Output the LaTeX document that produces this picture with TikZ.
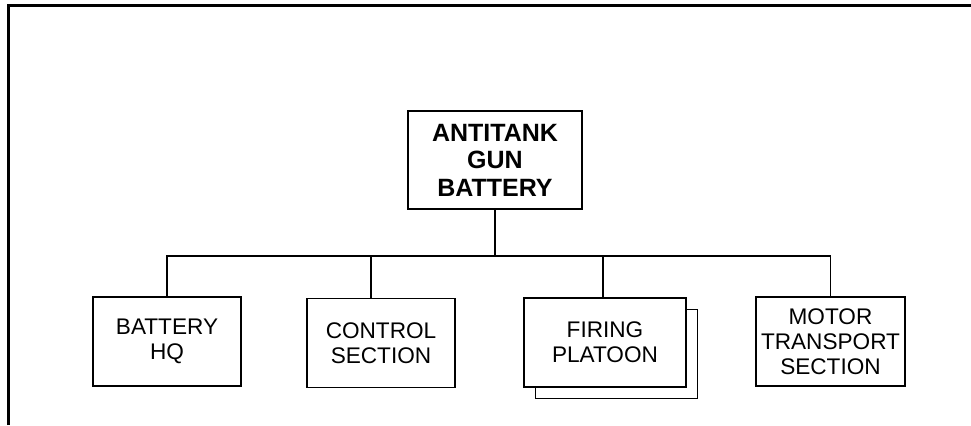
\documentclass[tikz,border=0pt]{standalone}
\usepackage{fontspec}
\setmainfont{Liberation Sans}
\tikzset{
    unitbox/.style={draw, line width=0.8pt, fill=white, align=center,
        minimum width=74pt, minimum height=44.5pt, inner sep=2pt,
        font=\fontsize{11.3}{12.5}\selectfont},
    headbox/.style={unitbox, minimum width=87pt, minimum height=49pt,
        font=\fontsize{12.5}{13.8}\selectfont\bfseries},
    link/.style={line width=0.6pt}
}
\begin{document}
\begin{tikzpicture}[x=0.5pt, y=-0.5pt]
    \useasboundingbox (0,0) rectangle (971,425);
    % frame
    \draw[line width=1.5pt] (8,425) -- (8,5.5) -- (971,5.5);
    % units
    \node[headbox] (battery) at (495,160) {ANTITANK\\GUN\\BATTERY};
    \node[unitbox] (hq) at (167,341.5) {BATTERY\\HQ};
    \node[unitbox] (control) at (381,343) {CONTROL\\SECTION};
    \node[unitbox, minimum width=81pt] (platoonback) at (616.5,354) {};
    \node[unitbox, minimum width=81pt] (platoon) at (605,342.5) {FIRING\\PLATOON};
    \node[unitbox, minimum width=74.5pt] (transport) at (830.5,341.5) {MOTOR\\TRANSPORT\\SECTION};
    % connectors
    \coordinate (bus) at (495,256);
    \draw[link] (battery.south) -- (bus);
    \draw[link] (hq.north) |- (bus) -| (transport.north);
    \draw[link] ([xshift=-5pt]control.north) -- ([xshift=-5pt]control.north |- bus);
    \draw[link] ([xshift=-1pt]platoon.north) -- ([xshift=-1pt]platoon.north |- bus);
\end{tikzpicture}
\end{document}
